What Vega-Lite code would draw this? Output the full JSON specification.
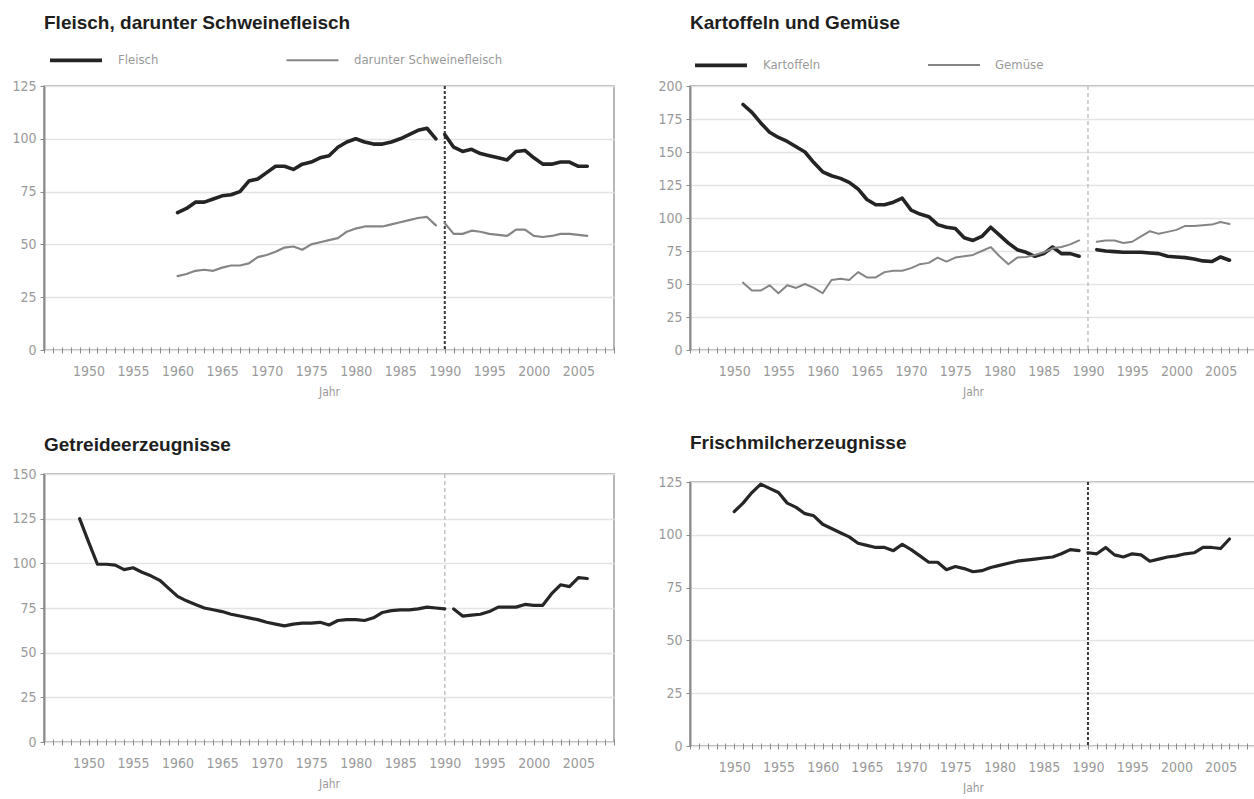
{
  "$schema": "https://vega.github.io/schema/vega-lite/v6.json",
  "background": "white",
  "padding": {"left": 11, "top": 13, "right": 0, "bottom": 0},
  "datasets": {
    "marker": [{"Jahr": 1990}],
    "fleisch": [
      {"Jahr": 1960, "Wert": 65, "Reihe": "Fleisch", "Abschnitt": "vor"},
      {"Jahr": 1961, "Wert": 67, "Reihe": "Fleisch", "Abschnitt": "vor"},
      {"Jahr": 1962, "Wert": 70, "Reihe": "Fleisch", "Abschnitt": "vor"},
      {"Jahr": 1963, "Wert": 70, "Reihe": "Fleisch", "Abschnitt": "vor"},
      {"Jahr": 1964, "Wert": 71.5, "Reihe": "Fleisch", "Abschnitt": "vor"},
      {"Jahr": 1965, "Wert": 73, "Reihe": "Fleisch", "Abschnitt": "vor"},
      {"Jahr": 1966, "Wert": 73.5, "Reihe": "Fleisch", "Abschnitt": "vor"},
      {"Jahr": 1967, "Wert": 75, "Reihe": "Fleisch", "Abschnitt": "vor"},
      {"Jahr": 1968, "Wert": 80, "Reihe": "Fleisch", "Abschnitt": "vor"},
      {"Jahr": 1969, "Wert": 81, "Reihe": "Fleisch", "Abschnitt": "vor"},
      {"Jahr": 1970, "Wert": 84, "Reihe": "Fleisch", "Abschnitt": "vor"},
      {"Jahr": 1971, "Wert": 87, "Reihe": "Fleisch", "Abschnitt": "vor"},
      {"Jahr": 1972, "Wert": 87, "Reihe": "Fleisch", "Abschnitt": "vor"},
      {"Jahr": 1973, "Wert": 85.5, "Reihe": "Fleisch", "Abschnitt": "vor"},
      {"Jahr": 1974, "Wert": 88, "Reihe": "Fleisch", "Abschnitt": "vor"},
      {"Jahr": 1975, "Wert": 89, "Reihe": "Fleisch", "Abschnitt": "vor"},
      {"Jahr": 1976, "Wert": 91, "Reihe": "Fleisch", "Abschnitt": "vor"},
      {"Jahr": 1977, "Wert": 92, "Reihe": "Fleisch", "Abschnitt": "vor"},
      {"Jahr": 1978, "Wert": 96, "Reihe": "Fleisch", "Abschnitt": "vor"},
      {"Jahr": 1979, "Wert": 98.5, "Reihe": "Fleisch", "Abschnitt": "vor"},
      {"Jahr": 1980, "Wert": 100, "Reihe": "Fleisch", "Abschnitt": "vor"},
      {"Jahr": 1981, "Wert": 98.5, "Reihe": "Fleisch", "Abschnitt": "vor"},
      {"Jahr": 1982, "Wert": 97.5, "Reihe": "Fleisch", "Abschnitt": "vor"},
      {"Jahr": 1983, "Wert": 97.5, "Reihe": "Fleisch", "Abschnitt": "vor"},
      {"Jahr": 1984, "Wert": 98.5, "Reihe": "Fleisch", "Abschnitt": "vor"},
      {"Jahr": 1985, "Wert": 100, "Reihe": "Fleisch", "Abschnitt": "vor"},
      {"Jahr": 1986, "Wert": 102, "Reihe": "Fleisch", "Abschnitt": "vor"},
      {"Jahr": 1987, "Wert": 104, "Reihe": "Fleisch", "Abschnitt": "vor"},
      {"Jahr": 1988, "Wert": 105, "Reihe": "Fleisch", "Abschnitt": "vor"},
      {"Jahr": 1989, "Wert": 100, "Reihe": "Fleisch", "Abschnitt": "vor"},
      {"Jahr": 1990, "Wert": 102, "Reihe": "Fleisch", "Abschnitt": "nach"},
      {"Jahr": 1991, "Wert": 96, "Reihe": "Fleisch", "Abschnitt": "nach"},
      {"Jahr": 1992, "Wert": 94, "Reihe": "Fleisch", "Abschnitt": "nach"},
      {"Jahr": 1993, "Wert": 95, "Reihe": "Fleisch", "Abschnitt": "nach"},
      {"Jahr": 1994, "Wert": 93, "Reihe": "Fleisch", "Abschnitt": "nach"},
      {"Jahr": 1995, "Wert": 92, "Reihe": "Fleisch", "Abschnitt": "nach"},
      {"Jahr": 1996, "Wert": 91, "Reihe": "Fleisch", "Abschnitt": "nach"},
      {"Jahr": 1997, "Wert": 90, "Reihe": "Fleisch", "Abschnitt": "nach"},
      {"Jahr": 1998, "Wert": 94, "Reihe": "Fleisch", "Abschnitt": "nach"},
      {"Jahr": 1999, "Wert": 94.5, "Reihe": "Fleisch", "Abschnitt": "nach"},
      {"Jahr": 2000, "Wert": 91, "Reihe": "Fleisch", "Abschnitt": "nach"},
      {"Jahr": 2001, "Wert": 88, "Reihe": "Fleisch", "Abschnitt": "nach"},
      {"Jahr": 2002, "Wert": 88, "Reihe": "Fleisch", "Abschnitt": "nach"},
      {"Jahr": 2003, "Wert": 89, "Reihe": "Fleisch", "Abschnitt": "nach"},
      {"Jahr": 2004, "Wert": 89, "Reihe": "Fleisch", "Abschnitt": "nach"},
      {"Jahr": 2005, "Wert": 87, "Reihe": "Fleisch", "Abschnitt": "nach"},
      {"Jahr": 2006, "Wert": 87, "Reihe": "Fleisch", "Abschnitt": "nach"},
      {"Jahr": 1960, "Wert": 35, "Reihe": "darunter Schweinefleisch", "Abschnitt": "vor"},
      {"Jahr": 1961, "Wert": 36, "Reihe": "darunter Schweinefleisch", "Abschnitt": "vor"},
      {"Jahr": 1962, "Wert": 37.5, "Reihe": "darunter Schweinefleisch", "Abschnitt": "vor"},
      {"Jahr": 1963, "Wert": 38, "Reihe": "darunter Schweinefleisch", "Abschnitt": "vor"},
      {"Jahr": 1964, "Wert": 37.5, "Reihe": "darunter Schweinefleisch", "Abschnitt": "vor"},
      {"Jahr": 1965, "Wert": 39, "Reihe": "darunter Schweinefleisch", "Abschnitt": "vor"},
      {"Jahr": 1966, "Wert": 40, "Reihe": "darunter Schweinefleisch", "Abschnitt": "vor"},
      {"Jahr": 1967, "Wert": 40, "Reihe": "darunter Schweinefleisch", "Abschnitt": "vor"},
      {"Jahr": 1968, "Wert": 41, "Reihe": "darunter Schweinefleisch", "Abschnitt": "vor"},
      {"Jahr": 1969, "Wert": 44, "Reihe": "darunter Schweinefleisch", "Abschnitt": "vor"},
      {"Jahr": 1970, "Wert": 45, "Reihe": "darunter Schweinefleisch", "Abschnitt": "vor"},
      {"Jahr": 1971, "Wert": 46.5, "Reihe": "darunter Schweinefleisch", "Abschnitt": "vor"},
      {"Jahr": 1972, "Wert": 48.5, "Reihe": "darunter Schweinefleisch", "Abschnitt": "vor"},
      {"Jahr": 1973, "Wert": 49, "Reihe": "darunter Schweinefleisch", "Abschnitt": "vor"},
      {"Jahr": 1974, "Wert": 47.5, "Reihe": "darunter Schweinefleisch", "Abschnitt": "vor"},
      {"Jahr": 1975, "Wert": 50, "Reihe": "darunter Schweinefleisch", "Abschnitt": "vor"},
      {"Jahr": 1976, "Wert": 51, "Reihe": "darunter Schweinefleisch", "Abschnitt": "vor"},
      {"Jahr": 1977, "Wert": 52, "Reihe": "darunter Schweinefleisch", "Abschnitt": "vor"},
      {"Jahr": 1978, "Wert": 53, "Reihe": "darunter Schweinefleisch", "Abschnitt": "vor"},
      {"Jahr": 1979, "Wert": 56, "Reihe": "darunter Schweinefleisch", "Abschnitt": "vor"},
      {"Jahr": 1980, "Wert": 57.5, "Reihe": "darunter Schweinefleisch", "Abschnitt": "vor"},
      {"Jahr": 1981, "Wert": 58.5, "Reihe": "darunter Schweinefleisch", "Abschnitt": "vor"},
      {"Jahr": 1982, "Wert": 58.5, "Reihe": "darunter Schweinefleisch", "Abschnitt": "vor"},
      {"Jahr": 1983, "Wert": 58.5, "Reihe": "darunter Schweinefleisch", "Abschnitt": "vor"},
      {"Jahr": 1984, "Wert": 59.5, "Reihe": "darunter Schweinefleisch", "Abschnitt": "vor"},
      {"Jahr": 1985, "Wert": 60.5, "Reihe": "darunter Schweinefleisch", "Abschnitt": "vor"},
      {"Jahr": 1986, "Wert": 61.5, "Reihe": "darunter Schweinefleisch", "Abschnitt": "vor"},
      {"Jahr": 1987, "Wert": 62.5, "Reihe": "darunter Schweinefleisch", "Abschnitt": "vor"},
      {"Jahr": 1988, "Wert": 63, "Reihe": "darunter Schweinefleisch", "Abschnitt": "vor"},
      {"Jahr": 1989, "Wert": 59, "Reihe": "darunter Schweinefleisch", "Abschnitt": "vor"},
      {"Jahr": 1990, "Wert": 60, "Reihe": "darunter Schweinefleisch", "Abschnitt": "nach"},
      {"Jahr": 1991, "Wert": 55, "Reihe": "darunter Schweinefleisch", "Abschnitt": "nach"},
      {"Jahr": 1992, "Wert": 55, "Reihe": "darunter Schweinefleisch", "Abschnitt": "nach"},
      {"Jahr": 1993, "Wert": 56.5, "Reihe": "darunter Schweinefleisch", "Abschnitt": "nach"},
      {"Jahr": 1994, "Wert": 56, "Reihe": "darunter Schweinefleisch", "Abschnitt": "nach"},
      {"Jahr": 1995, "Wert": 55, "Reihe": "darunter Schweinefleisch", "Abschnitt": "nach"},
      {"Jahr": 1996, "Wert": 54.5, "Reihe": "darunter Schweinefleisch", "Abschnitt": "nach"},
      {"Jahr": 1997, "Wert": 54, "Reihe": "darunter Schweinefleisch", "Abschnitt": "nach"},
      {"Jahr": 1998, "Wert": 57, "Reihe": "darunter Schweinefleisch", "Abschnitt": "nach"},
      {"Jahr": 1999, "Wert": 57, "Reihe": "darunter Schweinefleisch", "Abschnitt": "nach"},
      {"Jahr": 2000, "Wert": 54, "Reihe": "darunter Schweinefleisch", "Abschnitt": "nach"},
      {"Jahr": 2001, "Wert": 53.5, "Reihe": "darunter Schweinefleisch", "Abschnitt": "nach"},
      {"Jahr": 2002, "Wert": 54, "Reihe": "darunter Schweinefleisch", "Abschnitt": "nach"},
      {"Jahr": 2003, "Wert": 55, "Reihe": "darunter Schweinefleisch", "Abschnitt": "nach"},
      {"Jahr": 2004, "Wert": 55, "Reihe": "darunter Schweinefleisch", "Abschnitt": "nach"},
      {"Jahr": 2005, "Wert": 54.5, "Reihe": "darunter Schweinefleisch", "Abschnitt": "nach"},
      {"Jahr": 2006, "Wert": 54, "Reihe": "darunter Schweinefleisch", "Abschnitt": "nach"}
    ],
    "kartoffel": [
      {"Jahr": 1951, "Wert": 186, "Reihe": "Kartoffeln", "Abschnitt": "vor"},
      {"Jahr": 1952, "Wert": 180, "Reihe": "Kartoffeln", "Abschnitt": "vor"},
      {"Jahr": 1953, "Wert": 172, "Reihe": "Kartoffeln", "Abschnitt": "vor"},
      {"Jahr": 1954, "Wert": 165, "Reihe": "Kartoffeln", "Abschnitt": "vor"},
      {"Jahr": 1955, "Wert": 161, "Reihe": "Kartoffeln", "Abschnitt": "vor"},
      {"Jahr": 1956, "Wert": 158, "Reihe": "Kartoffeln", "Abschnitt": "vor"},
      {"Jahr": 1957, "Wert": 154, "Reihe": "Kartoffeln", "Abschnitt": "vor"},
      {"Jahr": 1958, "Wert": 150, "Reihe": "Kartoffeln", "Abschnitt": "vor"},
      {"Jahr": 1959, "Wert": 142, "Reihe": "Kartoffeln", "Abschnitt": "vor"},
      {"Jahr": 1960, "Wert": 135, "Reihe": "Kartoffeln", "Abschnitt": "vor"},
      {"Jahr": 1961, "Wert": 132, "Reihe": "Kartoffeln", "Abschnitt": "vor"},
      {"Jahr": 1962, "Wert": 130, "Reihe": "Kartoffeln", "Abschnitt": "vor"},
      {"Jahr": 1963, "Wert": 127, "Reihe": "Kartoffeln", "Abschnitt": "vor"},
      {"Jahr": 1964, "Wert": 122, "Reihe": "Kartoffeln", "Abschnitt": "vor"},
      {"Jahr": 1965, "Wert": 114, "Reihe": "Kartoffeln", "Abschnitt": "vor"},
      {"Jahr": 1966, "Wert": 110, "Reihe": "Kartoffeln", "Abschnitt": "vor"},
      {"Jahr": 1967, "Wert": 110, "Reihe": "Kartoffeln", "Abschnitt": "vor"},
      {"Jahr": 1968, "Wert": 112, "Reihe": "Kartoffeln", "Abschnitt": "vor"},
      {"Jahr": 1969, "Wert": 115, "Reihe": "Kartoffeln", "Abschnitt": "vor"},
      {"Jahr": 1970, "Wert": 106, "Reihe": "Kartoffeln", "Abschnitt": "vor"},
      {"Jahr": 1971, "Wert": 103, "Reihe": "Kartoffeln", "Abschnitt": "vor"},
      {"Jahr": 1972, "Wert": 101, "Reihe": "Kartoffeln", "Abschnitt": "vor"},
      {"Jahr": 1973, "Wert": 95, "Reihe": "Kartoffeln", "Abschnitt": "vor"},
      {"Jahr": 1974, "Wert": 93, "Reihe": "Kartoffeln", "Abschnitt": "vor"},
      {"Jahr": 1975, "Wert": 92, "Reihe": "Kartoffeln", "Abschnitt": "vor"},
      {"Jahr": 1976, "Wert": 85, "Reihe": "Kartoffeln", "Abschnitt": "vor"},
      {"Jahr": 1977, "Wert": 83, "Reihe": "Kartoffeln", "Abschnitt": "vor"},
      {"Jahr": 1978, "Wert": 86, "Reihe": "Kartoffeln", "Abschnitt": "vor"},
      {"Jahr": 1979, "Wert": 93, "Reihe": "Kartoffeln", "Abschnitt": "vor"},
      {"Jahr": 1980, "Wert": 87, "Reihe": "Kartoffeln", "Abschnitt": "vor"},
      {"Jahr": 1981, "Wert": 81, "Reihe": "Kartoffeln", "Abschnitt": "vor"},
      {"Jahr": 1982, "Wert": 76, "Reihe": "Kartoffeln", "Abschnitt": "vor"},
      {"Jahr": 1983, "Wert": 74, "Reihe": "Kartoffeln", "Abschnitt": "vor"},
      {"Jahr": 1984, "Wert": 71, "Reihe": "Kartoffeln", "Abschnitt": "vor"},
      {"Jahr": 1985, "Wert": 73, "Reihe": "Kartoffeln", "Abschnitt": "vor"},
      {"Jahr": 1986, "Wert": 78, "Reihe": "Kartoffeln", "Abschnitt": "vor"},
      {"Jahr": 1987, "Wert": 73, "Reihe": "Kartoffeln", "Abschnitt": "vor"},
      {"Jahr": 1988, "Wert": 73, "Reihe": "Kartoffeln", "Abschnitt": "vor"},
      {"Jahr": 1989, "Wert": 71, "Reihe": "Kartoffeln", "Abschnitt": "vor"},
      {"Jahr": 1991, "Wert": 76, "Reihe": "Kartoffeln", "Abschnitt": "nach"},
      {"Jahr": 1992, "Wert": 75, "Reihe": "Kartoffeln", "Abschnitt": "nach"},
      {"Jahr": 1993, "Wert": 74.5, "Reihe": "Kartoffeln", "Abschnitt": "nach"},
      {"Jahr": 1994, "Wert": 74, "Reihe": "Kartoffeln", "Abschnitt": "nach"},
      {"Jahr": 1995, "Wert": 74, "Reihe": "Kartoffeln", "Abschnitt": "nach"},
      {"Jahr": 1996, "Wert": 74, "Reihe": "Kartoffeln", "Abschnitt": "nach"},
      {"Jahr": 1997, "Wert": 73.5, "Reihe": "Kartoffeln", "Abschnitt": "nach"},
      {"Jahr": 1998, "Wert": 73, "Reihe": "Kartoffeln", "Abschnitt": "nach"},
      {"Jahr": 1999, "Wert": 71, "Reihe": "Kartoffeln", "Abschnitt": "nach"},
      {"Jahr": 2000, "Wert": 70.5, "Reihe": "Kartoffeln", "Abschnitt": "nach"},
      {"Jahr": 2001, "Wert": 70, "Reihe": "Kartoffeln", "Abschnitt": "nach"},
      {"Jahr": 2002, "Wert": 69, "Reihe": "Kartoffeln", "Abschnitt": "nach"},
      {"Jahr": 2003, "Wert": 67.5, "Reihe": "Kartoffeln", "Abschnitt": "nach"},
      {"Jahr": 2004, "Wert": 67, "Reihe": "Kartoffeln", "Abschnitt": "nach"},
      {"Jahr": 2005, "Wert": 70.5, "Reihe": "Kartoffeln", "Abschnitt": "nach"},
      {"Jahr": 2006, "Wert": 68, "Reihe": "Kartoffeln", "Abschnitt": "nach"},
      {"Jahr": 1951, "Wert": 51, "Reihe": "Gemüse", "Abschnitt": "vor"},
      {"Jahr": 1952, "Wert": 45, "Reihe": "Gemüse", "Abschnitt": "vor"},
      {"Jahr": 1953, "Wert": 45, "Reihe": "Gemüse", "Abschnitt": "vor"},
      {"Jahr": 1954, "Wert": 49, "Reihe": "Gemüse", "Abschnitt": "vor"},
      {"Jahr": 1955, "Wert": 43, "Reihe": "Gemüse", "Abschnitt": "vor"},
      {"Jahr": 1956, "Wert": 49, "Reihe": "Gemüse", "Abschnitt": "vor"},
      {"Jahr": 1957, "Wert": 47, "Reihe": "Gemüse", "Abschnitt": "vor"},
      {"Jahr": 1958, "Wert": 50, "Reihe": "Gemüse", "Abschnitt": "vor"},
      {"Jahr": 1959, "Wert": 47, "Reihe": "Gemüse", "Abschnitt": "vor"},
      {"Jahr": 1960, "Wert": 43, "Reihe": "Gemüse", "Abschnitt": "vor"},
      {"Jahr": 1961, "Wert": 53, "Reihe": "Gemüse", "Abschnitt": "vor"},
      {"Jahr": 1962, "Wert": 54, "Reihe": "Gemüse", "Abschnitt": "vor"},
      {"Jahr": 1963, "Wert": 53, "Reihe": "Gemüse", "Abschnitt": "vor"},
      {"Jahr": 1964, "Wert": 59, "Reihe": "Gemüse", "Abschnitt": "vor"},
      {"Jahr": 1965, "Wert": 55, "Reihe": "Gemüse", "Abschnitt": "vor"},
      {"Jahr": 1966, "Wert": 55, "Reihe": "Gemüse", "Abschnitt": "vor"},
      {"Jahr": 1967, "Wert": 59, "Reihe": "Gemüse", "Abschnitt": "vor"},
      {"Jahr": 1968, "Wert": 60, "Reihe": "Gemüse", "Abschnitt": "vor"},
      {"Jahr": 1969, "Wert": 60, "Reihe": "Gemüse", "Abschnitt": "vor"},
      {"Jahr": 1970, "Wert": 62, "Reihe": "Gemüse", "Abschnitt": "vor"},
      {"Jahr": 1971, "Wert": 65, "Reihe": "Gemüse", "Abschnitt": "vor"},
      {"Jahr": 1972, "Wert": 66, "Reihe": "Gemüse", "Abschnitt": "vor"},
      {"Jahr": 1973, "Wert": 70, "Reihe": "Gemüse", "Abschnitt": "vor"},
      {"Jahr": 1974, "Wert": 67, "Reihe": "Gemüse", "Abschnitt": "vor"},
      {"Jahr": 1975, "Wert": 70, "Reihe": "Gemüse", "Abschnitt": "vor"},
      {"Jahr": 1976, "Wert": 71, "Reihe": "Gemüse", "Abschnitt": "vor"},
      {"Jahr": 1977, "Wert": 72, "Reihe": "Gemüse", "Abschnitt": "vor"},
      {"Jahr": 1978, "Wert": 75, "Reihe": "Gemüse", "Abschnitt": "vor"},
      {"Jahr": 1979, "Wert": 78, "Reihe": "Gemüse", "Abschnitt": "vor"},
      {"Jahr": 1980, "Wert": 71, "Reihe": "Gemüse", "Abschnitt": "vor"},
      {"Jahr": 1981, "Wert": 65, "Reihe": "Gemüse", "Abschnitt": "vor"},
      {"Jahr": 1982, "Wert": 70, "Reihe": "Gemüse", "Abschnitt": "vor"},
      {"Jahr": 1983, "Wert": 70.5, "Reihe": "Gemüse", "Abschnitt": "vor"},
      {"Jahr": 1984, "Wert": 72, "Reihe": "Gemüse", "Abschnitt": "vor"},
      {"Jahr": 1985, "Wert": 74, "Reihe": "Gemüse", "Abschnitt": "vor"},
      {"Jahr": 1986, "Wert": 77, "Reihe": "Gemüse", "Abschnitt": "vor"},
      {"Jahr": 1987, "Wert": 78, "Reihe": "Gemüse", "Abschnitt": "vor"},
      {"Jahr": 1988, "Wert": 80, "Reihe": "Gemüse", "Abschnitt": "vor"},
      {"Jahr": 1989, "Wert": 83, "Reihe": "Gemüse", "Abschnitt": "vor"},
      {"Jahr": 1991, "Wert": 82, "Reihe": "Gemüse", "Abschnitt": "nach"},
      {"Jahr": 1992, "Wert": 83, "Reihe": "Gemüse", "Abschnitt": "nach"},
      {"Jahr": 1993, "Wert": 83, "Reihe": "Gemüse", "Abschnitt": "nach"},
      {"Jahr": 1994, "Wert": 81, "Reihe": "Gemüse", "Abschnitt": "nach"},
      {"Jahr": 1995, "Wert": 82, "Reihe": "Gemüse", "Abschnitt": "nach"},
      {"Jahr": 1996, "Wert": 86, "Reihe": "Gemüse", "Abschnitt": "nach"},
      {"Jahr": 1997, "Wert": 90, "Reihe": "Gemüse", "Abschnitt": "nach"},
      {"Jahr": 1998, "Wert": 88, "Reihe": "Gemüse", "Abschnitt": "nach"},
      {"Jahr": 1999, "Wert": 89.5, "Reihe": "Gemüse", "Abschnitt": "nach"},
      {"Jahr": 2000, "Wert": 91, "Reihe": "Gemüse", "Abschnitt": "nach"},
      {"Jahr": 2001, "Wert": 94, "Reihe": "Gemüse", "Abschnitt": "nach"},
      {"Jahr": 2002, "Wert": 94, "Reihe": "Gemüse", "Abschnitt": "nach"},
      {"Jahr": 2003, "Wert": 94.5, "Reihe": "Gemüse", "Abschnitt": "nach"},
      {"Jahr": 2004, "Wert": 95, "Reihe": "Gemüse", "Abschnitt": "nach"},
      {"Jahr": 2005, "Wert": 97, "Reihe": "Gemüse", "Abschnitt": "nach"},
      {"Jahr": 2006, "Wert": 95.5, "Reihe": "Gemüse", "Abschnitt": "nach"}
    ],
    "getreide": [
      {"Jahr": 1949, "Wert": 125, "Abschnitt": "vor"},
      {"Jahr": 1950, "Wert": 112, "Abschnitt": "vor"},
      {"Jahr": 1951, "Wert": 99.5, "Abschnitt": "vor"},
      {"Jahr": 1952, "Wert": 99.5, "Abschnitt": "vor"},
      {"Jahr": 1953, "Wert": 99, "Abschnitt": "vor"},
      {"Jahr": 1954, "Wert": 96.5, "Abschnitt": "vor"},
      {"Jahr": 1955, "Wert": 97.5, "Abschnitt": "vor"},
      {"Jahr": 1956, "Wert": 95, "Abschnitt": "vor"},
      {"Jahr": 1957, "Wert": 93, "Abschnitt": "vor"},
      {"Jahr": 1958, "Wert": 90.5, "Abschnitt": "vor"},
      {"Jahr": 1959, "Wert": 86, "Abschnitt": "vor"},
      {"Jahr": 1960, "Wert": 81.5, "Abschnitt": "vor"},
      {"Jahr": 1961, "Wert": 79, "Abschnitt": "vor"},
      {"Jahr": 1962, "Wert": 77, "Abschnitt": "vor"},
      {"Jahr": 1963, "Wert": 75, "Abschnitt": "vor"},
      {"Jahr": 1964, "Wert": 74, "Abschnitt": "vor"},
      {"Jahr": 1965, "Wert": 73, "Abschnitt": "vor"},
      {"Jahr": 1966, "Wert": 71.5, "Abschnitt": "vor"},
      {"Jahr": 1967, "Wert": 70.5, "Abschnitt": "vor"},
      {"Jahr": 1968, "Wert": 69.5, "Abschnitt": "vor"},
      {"Jahr": 1969, "Wert": 68.5, "Abschnitt": "vor"},
      {"Jahr": 1970, "Wert": 67, "Abschnitt": "vor"},
      {"Jahr": 1971, "Wert": 66, "Abschnitt": "vor"},
      {"Jahr": 1972, "Wert": 65, "Abschnitt": "vor"},
      {"Jahr": 1973, "Wert": 66, "Abschnitt": "vor"},
      {"Jahr": 1974, "Wert": 66.5, "Abschnitt": "vor"},
      {"Jahr": 1975, "Wert": 66.5, "Abschnitt": "vor"},
      {"Jahr": 1976, "Wert": 67, "Abschnitt": "vor"},
      {"Jahr": 1977, "Wert": 65.5, "Abschnitt": "vor"},
      {"Jahr": 1978, "Wert": 68, "Abschnitt": "vor"},
      {"Jahr": 1979, "Wert": 68.5, "Abschnitt": "vor"},
      {"Jahr": 1980, "Wert": 68.5, "Abschnitt": "vor"},
      {"Jahr": 1981, "Wert": 68, "Abschnitt": "vor"},
      {"Jahr": 1982, "Wert": 69.5, "Abschnitt": "vor"},
      {"Jahr": 1983, "Wert": 72.5, "Abschnitt": "vor"},
      {"Jahr": 1984, "Wert": 73.5, "Abschnitt": "vor"},
      {"Jahr": 1985, "Wert": 74, "Abschnitt": "vor"},
      {"Jahr": 1986, "Wert": 74, "Abschnitt": "vor"},
      {"Jahr": 1987, "Wert": 74.5, "Abschnitt": "vor"},
      {"Jahr": 1988, "Wert": 75.5, "Abschnitt": "vor"},
      {"Jahr": 1989, "Wert": 75, "Abschnitt": "vor"},
      {"Jahr": 1990, "Wert": 74.5, "Abschnitt": "vor"},
      {"Jahr": 1991, "Wert": 74.5, "Abschnitt": "nach"},
      {"Jahr": 1992, "Wert": 70.5, "Abschnitt": "nach"},
      {"Jahr": 1993, "Wert": 71, "Abschnitt": "nach"},
      {"Jahr": 1994, "Wert": 71.5, "Abschnitt": "nach"},
      {"Jahr": 1995, "Wert": 73, "Abschnitt": "nach"},
      {"Jahr": 1996, "Wert": 75.5, "Abschnitt": "nach"},
      {"Jahr": 1997, "Wert": 75.5, "Abschnitt": "nach"},
      {"Jahr": 1998, "Wert": 75.5, "Abschnitt": "nach"},
      {"Jahr": 1999, "Wert": 77, "Abschnitt": "nach"},
      {"Jahr": 2000, "Wert": 76.5, "Abschnitt": "nach"},
      {"Jahr": 2001, "Wert": 76.5, "Abschnitt": "nach"},
      {"Jahr": 2002, "Wert": 83, "Abschnitt": "nach"},
      {"Jahr": 2003, "Wert": 88, "Abschnitt": "nach"},
      {"Jahr": 2004, "Wert": 87, "Abschnitt": "nach"},
      {"Jahr": 2005, "Wert": 92, "Abschnitt": "nach"},
      {"Jahr": 2006, "Wert": 91.5, "Abschnitt": "nach"}
    ],
    "milch": [
      {"Jahr": 1950, "Wert": 111, "Abschnitt": "vor"},
      {"Jahr": 1951, "Wert": 115, "Abschnitt": "vor"},
      {"Jahr": 1952, "Wert": 120, "Abschnitt": "vor"},
      {"Jahr": 1953, "Wert": 124, "Abschnitt": "vor"},
      {"Jahr": 1954, "Wert": 122, "Abschnitt": "vor"},
      {"Jahr": 1955, "Wert": 120, "Abschnitt": "vor"},
      {"Jahr": 1956, "Wert": 115, "Abschnitt": "vor"},
      {"Jahr": 1957, "Wert": 113, "Abschnitt": "vor"},
      {"Jahr": 1958, "Wert": 110, "Abschnitt": "vor"},
      {"Jahr": 1959, "Wert": 109, "Abschnitt": "vor"},
      {"Jahr": 1960, "Wert": 105, "Abschnitt": "vor"},
      {"Jahr": 1961, "Wert": 103, "Abschnitt": "vor"},
      {"Jahr": 1962, "Wert": 101, "Abschnitt": "vor"},
      {"Jahr": 1963, "Wert": 99, "Abschnitt": "vor"},
      {"Jahr": 1964, "Wert": 96, "Abschnitt": "vor"},
      {"Jahr": 1965, "Wert": 95, "Abschnitt": "vor"},
      {"Jahr": 1966, "Wert": 94, "Abschnitt": "vor"},
      {"Jahr": 1967, "Wert": 94, "Abschnitt": "vor"},
      {"Jahr": 1968, "Wert": 92.5, "Abschnitt": "vor"},
      {"Jahr": 1969, "Wert": 95.5, "Abschnitt": "vor"},
      {"Jahr": 1970, "Wert": 93, "Abschnitt": "vor"},
      {"Jahr": 1971, "Wert": 90, "Abschnitt": "vor"},
      {"Jahr": 1972, "Wert": 87, "Abschnitt": "vor"},
      {"Jahr": 1973, "Wert": 87, "Abschnitt": "vor"},
      {"Jahr": 1974, "Wert": 83.5, "Abschnitt": "vor"},
      {"Jahr": 1975, "Wert": 85, "Abschnitt": "vor"},
      {"Jahr": 1976, "Wert": 84, "Abschnitt": "vor"},
      {"Jahr": 1977, "Wert": 82.5, "Abschnitt": "vor"},
      {"Jahr": 1978, "Wert": 83, "Abschnitt": "vor"},
      {"Jahr": 1979, "Wert": 84.5, "Abschnitt": "vor"},
      {"Jahr": 1980, "Wert": 85.5, "Abschnitt": "vor"},
      {"Jahr": 1981, "Wert": 86.5, "Abschnitt": "vor"},
      {"Jahr": 1982, "Wert": 87.5, "Abschnitt": "vor"},
      {"Jahr": 1983, "Wert": 88, "Abschnitt": "vor"},
      {"Jahr": 1984, "Wert": 88.5, "Abschnitt": "vor"},
      {"Jahr": 1985, "Wert": 89, "Abschnitt": "vor"},
      {"Jahr": 1986, "Wert": 89.5, "Abschnitt": "vor"},
      {"Jahr": 1987, "Wert": 91, "Abschnitt": "vor"},
      {"Jahr": 1988, "Wert": 93, "Abschnitt": "vor"},
      {"Jahr": 1989, "Wert": 92.5, "Abschnitt": "vor"},
      {"Jahr": 1990, "Wert": 91.5, "Abschnitt": "nach"},
      {"Jahr": 1991, "Wert": 91, "Abschnitt": "nach"},
      {"Jahr": 1992, "Wert": 94, "Abschnitt": "nach"},
      {"Jahr": 1993, "Wert": 90.5, "Abschnitt": "nach"},
      {"Jahr": 1994, "Wert": 89.5, "Abschnitt": "nach"},
      {"Jahr": 1995, "Wert": 91, "Abschnitt": "nach"},
      {"Jahr": 1996, "Wert": 90.5, "Abschnitt": "nach"},
      {"Jahr": 1997, "Wert": 87.5, "Abschnitt": "nach"},
      {"Jahr": 1998, "Wert": 88.5, "Abschnitt": "nach"},
      {"Jahr": 1999, "Wert": 89.5, "Abschnitt": "nach"},
      {"Jahr": 2000, "Wert": 90, "Abschnitt": "nach"},
      {"Jahr": 2001, "Wert": 91, "Abschnitt": "nach"},
      {"Jahr": 2002, "Wert": 91.5, "Abschnitt": "nach"},
      {"Jahr": 2003, "Wert": 94, "Abschnitt": "nach"},
      {"Jahr": 2004, "Wert": 94, "Abschnitt": "nach"},
      {"Jahr": 2005, "Wert": 93.5, "Abschnitt": "nach"},
      {"Jahr": 2006, "Wert": 98, "Abschnitt": "nach"}
    ]
  },
  "hconcat": [
    {
      "spacing": 37,
      "vconcat": [
        {
          "width": 570, "height": 264,
          "title": {"text": "Fleisch, darunter Schweinefleisch", "offset": 46},
          "layer": [
            {"data": {"name": "marker"}, "mark": {"type": "rule", "color": "#3a3a3a", "strokeWidth": 2, "strokeDash": [3, 2]},
             "encoding": {"x": {"field": "Jahr", "type": "quantitative"}}},
            {"data": {"name": "fleisch"}, "mark": {"type": "line", "strokeCap": "round", "strokeJoin": "round"},
             "encoding": {
               "x": {"field": "Jahr", "type": "quantitative", "scale": {"domain": [1945, 2009], "nice": false, "zero": false},
                     "axis": {"title": "Jahr", "format": "d", "tickCount": 100, "labelOverlap": false, "offset": -3, "tickSize": 6, "domain": false, "grid": false,
                              "values": [1945,1946,1947,1948,1949,1950,1951,1952,1953,1954,1955,1956,1957,1958,1959,1960,1961,1962,1963,1964,1965,1966,1967,1968,1969,1970,1971,1972,1973,1974,1975,1976,1977,1978,1979,1980,1981,1982,1983,1984,1985,1986,1987,1988,1989,1990,1991,1992,1993,1994,1995,1996,1997,1998,1999,2000,2001,2002,2003,2004,2005,2006,2007,2008,2009],
                              "labelExpr": "(datum.value % 5 === 0 && datum.value >= 1950 && datum.value <= 2005) ? datum.label : ''"}},
               "y": {"field": "Wert", "type": "quantitative", "scale": {"domain": [0, 125], "nice": false}, "axis": {"title": null, "values": [0, 25, 50, 75, 100, 125]}},
               "color": {"field": "Reihe", "type": "nominal", "scale": {"domain": ["Fleisch", "darunter Schweinefleisch"], "range": ["#242424", "#858585"]},
                         "legend": {"orient": "none", "legendX": 4, "legendY": -54, "direction": "horizontal", "title": null, "columnPadding": 123}},
               "strokeWidth": {"field": "Reihe", "type": "nominal", "scale": {"domain": ["Fleisch", "darunter Schweinefleisch"], "range": [3.6, 2.2]},
                         "legend": {"orient": "none", "legendX": 4, "legendY": -54, "direction": "horizontal", "title": null, "columnPadding": 123}},
               "detail": {"field": "Abschnitt", "type": "nominal"}
             }}
          ]
        },
        {
          "width": 570, "height": 268,
          "title": {"text": "Getreideerzeugnisse", "offset": 12},
          "layer": [
            {"data": {"name": "marker"}, "mark": {"type": "rule", "color": "#c4c4c4", "strokeWidth": 1.5, "strokeDash": [4, 3]},
             "encoding": {"x": {"field": "Jahr", "type": "quantitative"}}},
            {"data": {"name": "getreide"}, "mark": {"type": "line", "color": "#262626", "strokeWidth": 3.2, "strokeCap": "round", "strokeJoin": "round"},
             "encoding": {
               "x": {"field": "Jahr", "type": "quantitative", "scale": {"domain": [1945, 2009], "nice": false, "zero": false},
                     "axis": {"title": "Jahr", "format": "d", "tickCount": 100, "labelOverlap": false, "offset": -3, "tickSize": 6, "domain": false, "grid": false,
                              "values": [1945,1946,1947,1948,1949,1950,1951,1952,1953,1954,1955,1956,1957,1958,1959,1960,1961,1962,1963,1964,1965,1966,1967,1968,1969,1970,1971,1972,1973,1974,1975,1976,1977,1978,1979,1980,1981,1982,1983,1984,1985,1986,1987,1988,1989,1990,1991,1992,1993,1994,1995,1996,1997,1998,1999,2000,2001,2002,2003,2004,2005,2006,2007,2008,2009],
                              "labelExpr": "(datum.value % 5 === 0 && datum.value >= 1950 && datum.value <= 2005) ? datum.label : ''"}},
               "y": {"field": "Wert", "type": "quantitative", "scale": {"domain": [0, 150], "nice": false}, "axis": {"title": null, "values": [0, 25, 50, 75, 100, 125, 150]}},
               "detail": {"field": "Abschnitt", "type": "nominal"}
             }}
          ]
        }
      ]
    },
    {
      "spacing": 35,
      "vconcat": [
        {
          "width": 566, "height": 264,
          "title": {"text": "Kartoffeln und Gemüse", "offset": 46},
          "layer": [
            {"data": {"name": "marker"}, "mark": {"type": "rule", "color": "#c4c4c4", "strokeWidth": 1.5, "strokeDash": [4, 3]},
             "encoding": {"x": {"field": "Jahr", "type": "quantitative"}}},
            {"data": {"name": "kartoffel"}, "mark": {"type": "line", "strokeCap": "round", "strokeJoin": "round"},
             "encoding": {
               "x": {"field": "Jahr", "type": "quantitative", "scale": {"domain": [1945, 2009], "nice": false, "zero": false},
                     "axis": {"title": "Jahr", "format": "d", "tickCount": 100, "labelOverlap": false, "offset": -3, "tickSize": 6, "domain": false, "grid": false,
                              "values": [1945,1946,1947,1948,1949,1950,1951,1952,1953,1954,1955,1956,1957,1958,1959,1960,1961,1962,1963,1964,1965,1966,1967,1968,1969,1970,1971,1972,1973,1974,1975,1976,1977,1978,1979,1980,1981,1982,1983,1984,1985,1986,1987,1988,1989,1990,1991,1992,1993,1994,1995,1996,1997,1998,1999,2000,2001,2002,2003,2004,2005,2006,2007,2008,2009],
                              "labelExpr": "(datum.value % 5 === 0 && datum.value >= 1950 && datum.value <= 2005) ? datum.label : ''"}},
               "y": {"field": "Wert", "type": "quantitative", "scale": {"domain": [0, 200], "nice": false}, "axis": {"title": null, "values": [0, 25, 50, 75, 100, 125, 150, 175, 200]}},
               "color": {"field": "Reihe", "type": "nominal", "scale": {"domain": ["Kartoffeln", "Gemüse"], "range": ["#242424", "#858585"]},
                         "legend": {"orient": "none", "legendX": 3, "legendY": -49, "direction": "horizontal", "title": null, "columnPadding": 103}},
               "strokeWidth": {"field": "Reihe", "type": "nominal", "scale": {"domain": ["Kartoffeln", "Gemüse"], "range": [3.6, 2]},
                         "legend": {"orient": "none", "legendX": 3, "legendY": -49, "direction": "horizontal", "title": null, "columnPadding": 103}},
               "detail": {"field": "Abschnitt", "type": "nominal"}
             }}
          ]
        },
        {
          "width": 566, "height": 264,
          "title": {"text": "Frischmilcherzeugnisse", "offset": 22},
          "layer": [
            {"data": {"name": "marker"}, "mark": {"type": "rule", "color": "#3a3a3a", "strokeWidth": 2, "strokeDash": [3, 2]},
             "encoding": {"x": {"field": "Jahr", "type": "quantitative"}}},
            {"data": {"name": "milch"}, "mark": {"type": "line", "color": "#262626", "strokeWidth": 3.2, "strokeCap": "round", "strokeJoin": "round"},
             "encoding": {
               "x": {"field": "Jahr", "type": "quantitative", "scale": {"domain": [1945, 2009], "nice": false, "zero": false},
                     "axis": {"title": "Jahr", "format": "d", "tickCount": 100, "labelOverlap": false, "offset": -3, "tickSize": 6, "domain": false, "grid": false,
                              "values": [1945,1946,1947,1948,1949,1950,1951,1952,1953,1954,1955,1956,1957,1958,1959,1960,1961,1962,1963,1964,1965,1966,1967,1968,1969,1970,1971,1972,1973,1974,1975,1976,1977,1978,1979,1980,1981,1982,1983,1984,1985,1986,1987,1988,1989,1990,1991,1992,1993,1994,1995,1996,1997,1998,1999,2000,2001,2002,2003,2004,2005,2006,2007,2008,2009],
                              "labelExpr": "(datum.value % 5 === 0 && datum.value >= 1950 && datum.value <= 2005) ? datum.label : ''"}},
               "y": {"field": "Wert", "type": "quantitative", "scale": {"domain": [0, 125], "nice": false}, "axis": {"title": null, "values": [0, 25, 50, 75, 100, 125]}},
               "detail": {"field": "Abschnitt", "type": "nominal"}
             }}
          ]
        }
      ]
    }
  ],
  "spacing": 41,
  "resolve": {"scale": {"color": "independent", "strokeWidth": "independent"}, "legend": {"color": "independent", "strokeWidth": "independent"}},
  "config": {
    "view": {"stroke": "#a0a0a0", "strokeWidth": 1.5},
    "title": {"font": "Liberation Sans", "fontSize": 19, "fontWeight": "bold", "color": "#1e1e1e", "anchor": "start", "frame": "group"},
    "axis": {"labelFont": "Liberation Sans Narrow, DejaVu Sans Condensed, Liberation Sans", "labelFontSize": 14, "labelColor": "#9a9a9a",
             "tickColor": "#8a8a8a", "domainColor": "#8a8a8a", "gridColor": "#e4e4e4", "gridWidth": 1.5,
             "titleFont": "Liberation Sans Narrow, DejaVu Sans Condensed, Liberation Sans", "titleFontSize": 12, "titleFontWeight": "normal", "titleColor": "#9a9a9a"},
    "axisY": {"tickSize": 4, "labelPadding": 4, "domainWidth": 2, "grid": true},
    "axisX": {"labelPadding": 11, "titlePadding": 8, "labelFlush": false},
    "legend": {"labelFont": "Liberation Sans Narrow, DejaVu Sans Condensed, Liberation Sans", "labelFontSize": 13, "labelColor": "#9a9a9a",
               "symbolType": "stroke", "symbolSize": 2700, "labelOffset": 14, "padding": 0}
  }
}
